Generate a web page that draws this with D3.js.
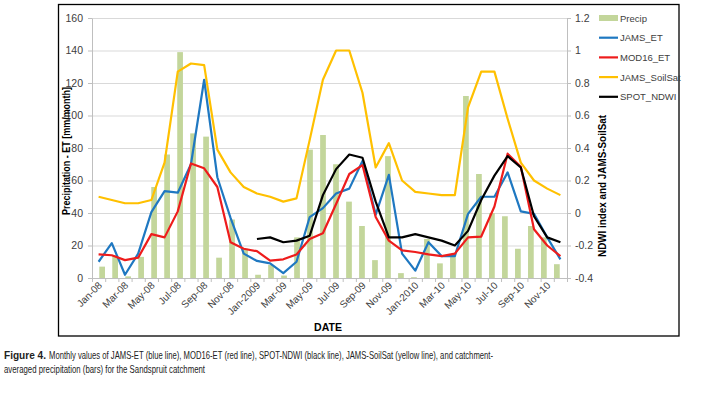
<!DOCTYPE html>
<html>
<head>
<meta charset="utf-8">
<script src="https://cdn.jsdelivr.net/npm/d3@7/dist/d3.min.js"></script>
<style>
  body { margin: 0; background: #fff; }
  svg text { font-family: "Liberation Sans", Arial, sans-serif; }
</style>
</head>
<body>
<svg id="chart" width="710" height="394"></svg>
<script>
const months = ['Jan-08','Feb-08','Mar-08','Apr-08','May-08','Jun-08','Jul-08','Aug-08','Sep-08','Oct-08','Nov-08','Dec-08',
  'Jan-2009','Feb-09','Mar-09','Apr-09','May-09','Jun-09','Jul-09','Aug-09','Sep-09','Oct-09','Nov-09','Dec-09',
  'Jan-2010','Feb-10','Mar-10','Apr-10','May-10','Jun-10','Jul-10','Aug-10','Sep-10','Oct-10','Nov-10','Dec-10']

const precip = [7, 14, 1, 13, 56, 76, 139, 89, 87, 12.5, 36, 18,
  2, 8, 1.5, 25, 79, 88, 70, 47, 32, 11, 75, 3,
  0.5, 24, 9, 14, 112, 64, 40, 38, 18, 32, 25, 8.5]
const jamsET = [10, 21.5, 2, 15, 40.5, 53.5, 52.5, 70, 122, 62, 37, 15,
  10.5, 9, 3, 10, 37.5, 43, 52, 55, 72, 39, 63.5, 15,
  4.5, 22, 13.5, 13.5, 39.5, 50, 50, 65, 41, 39.5, 25, 11.5]
const mod16ET = [14.5, 14, 11, 12.5, 27, 25, 41, 70.5, 67.5, 56, 22, 18,
  16.5, 10.7, 11.5, 14.5, 24, 27.5, 45.5, 64, 69.5, 37.5, 23, 17,
  16, 14.5, 13.5, 15, 25, 25.5, 44, 76.5, 68.5, 30, 20, 13.5]
const soilSat = [0.10, 0.08, 0.06, 0.06, 0.08, 0.31, 0.87, 0.92, 0.91, 0.39, 0.25, 0.16,
  0.12, 0.10, 0.07, 0.09, 0.45, 0.82, 1.00, 1.00, 0.74, 0.28, 0.43, 0.20,
  0.13, 0.12, 0.11, 0.11, 0.65, 0.87, 0.87, 0.58, 0.31, 0.20, 0.15, 0.11]
const ndwi = [null, null, null, null, null, null, null, null, null, null, null, null,
  -0.16, -0.15, -0.18, -0.17, -0.14, 0.11, 0.27, 0.36, 0.34, 0.07, -0.15, -0.15,
  -0.13, -0.15, -0.17, -0.20, -0.11, 0.08, 0.23, 0.35, 0.28, -0.02, -0.15, -0.18]

const leftTicks = [0, 20, 40, 60, 80, 100, 120, 140, 160]
const rightTicks = [-0.4, -0.2, 0, 0.2, 0.4, 0.6, 0.8, 1, 1.2]
const legendItems = ['Precip', 'JAMS_ET', 'MOD16_ET', 'JAMS_SoilSat', 'SPOT_NDWI']
const colors = { Precip: '#c3d69b', JAMS_ET: '#1f78c1', MOD16_ET: '#ee1c1c', JAMS_SoilSat: '#ffc000', SPOT_NDWI: '#000000' }

const svg = d3.select('#chart')
const plot = { left: 92, right: 567, top: 18, bottom: 278 }

// frame
svg.append('rect')
  .attr('x', 58.5).attr('y', 4.5).attr('width', 620.5).attr('height', 331.5)
  .attr('fill', 'none').attr('stroke', '#000').attr('stroke-width', 1.3)

const x = d3.scaleBand().domain(months).range([plot.left, plot.right])
const xBar = d3.scaleBand().domain(months).range([plot.left, plot.right]).padding(0.56)
const xIdx = d3.scaleLinear().domain([0, months.length]).range([plot.left, plot.right])
const yL = d3.scaleLinear().domain([0, 160]).range([plot.bottom, plot.top])
const yR = d3.scaleLinear().domain([-0.4, 1.2]).range([plot.bottom, plot.top])
const cx = m => x(m) + x.bandwidth() / 2

// gridlines
svg.append('g').selectAll('line').data(leftTicks.slice(1)).join('line')
  .attr('x1', plot.left).attr('x2', plot.right)
  .attr('y1', d => yL(d) + 0.5).attr('y2', d => yL(d) + 0.5)
  .attr('stroke', '#d9d9d9').attr('stroke-width', 1)

// bars
svg.append('g').selectAll('rect').data(precip).join('rect')
  .attr('x', (d, i) => xBar(months[i]))
  .attr('width', xBar.bandwidth())
  .attr('y', d => yL(d))
  .attr('height', d => yL(0) - yL(d))
  .attr('fill', colors.Precip)

// axes
const leftAxis = svg.append('g').attr('transform', `translate(${plot.left},0)`)
  .call(d3.axisLeft(yL).tickValues(leftTicks).tickSize(4).tickSizeOuter(0).tickPadding(5))
const rightAxis = svg.append('g').attr('transform', `translate(${plot.right},0)`)
  .call(d3.axisRight(yR).tickValues(rightTicks).tickSize(4).tickSizeOuter(0).tickPadding(4)
    .tickFormat(d => d3.format('~g')(d).replace('−', '-')))
const bottomAxis = svg.append('g').attr('transform', `translate(0,${plot.bottom})`)
  .call(d3.axisBottom(xIdx).tickValues(d3.range(months.length + 1)).tickSize(4).tickSizeOuter(0).tickFormat(''))

for (const a of [leftAxis, rightAxis, bottomAxis]) {
  a.select('.domain').attr('stroke', '#bfbfbf')
  a.selectAll('.tick line').attr('stroke', '#bfbfbf')
  a.selectAll('text').attr('font-size', 10.5).attr('fill', '#404040')
    .attr('font-family', '"Liberation Sans", Arial, sans-serif')
}

// x labels every other month
svg.append('g').selectAll('text').data(months.filter((m, i) => i % 2 === 0)).join('text')
  .attr('transform', d => `translate(${cx(d) + 4},${plot.bottom + 8}) rotate(-45)`)
  .attr('text-anchor', 'end')
  .attr('font-size', 10)
  .attr('fill', '#404040')
  .text(d => d)

// lines
const drawLine = (vals, scale, color) => {
  const line = d3.line()
    .defined(d => d != null)
    .x((d, i) => cx(months[i]))
    .y(d => scale(d))
  svg.append('path').datum(vals)
    .attr('d', line)
    .attr('fill', 'none')
    .attr('stroke', color)
    .attr('stroke-width', 2.2)
    .attr('stroke-linejoin', 'round')
}
drawLine(soilSat, yR, colors.JAMS_SoilSat)
drawLine(jamsET, yL, colors.JAMS_ET)
drawLine(mod16ET, yL, colors.MOD16_ET)
drawLine(ndwi, yR, colors.SPOT_NDWI)

// axis titles
svg.append('text')
  .attr('transform', `translate(70,151) rotate(-90)`)
  .attr('text-anchor', 'middle')
  .attr('font-weight', 'bold').attr('font-size', 10.5)
  .attr('textLength', 128).attr('lengthAdjust', 'spacingAndGlyphs')
  .text('Precipitation - ET [mm/month]')

svg.append('text')
  .attr('transform', `translate(606,186) rotate(-90)`)
  .attr('text-anchor', 'middle')
  .attr('font-weight', 'bold').attr('font-size', 10.5)
  .attr('textLength', 142).attr('lengthAdjust', 'spacingAndGlyphs')
  .text('NDWI index and JAMS-SoilSat')

svg.append('text')
  .attr('x', 328).attr('y', 331)
  .attr('text-anchor', 'middle')
  .attr('font-weight', 'bold').attr('font-size', 10.5)
  .text('DATE')

// legend
const legend = svg.append('g').attr('transform', 'translate(599,18)')
legendItems.forEach((name, i) => {
  const yy = i * 19.7
  if (name === 'Precip') {
    legend.append('rect').attr('x', 0).attr('y', yy - 3).attr('width', 19).attr('height', 6)
      .attr('fill', colors[name])
  } else {
    legend.append('line').attr('x1', 0).attr('x2', 19).attr('y1', yy).attr('y2', yy)
      .attr('stroke', colors[name]).attr('stroke-width', 2.2)
  }
  legend.append('text').attr('x', 21).attr('y', yy + 3.5)
    .attr('font-size', 9.5).attr('fill', '#404040').text(name)
})

// caption
const cap = svg.append('g').attr('font-family', '"Liberation Sans Narrow", "Liberation Sans", Arial, sans-serif')
  .attr('font-size', 10.5).attr('fill', '#222')
cap.append('text').attr('x', 4).attr('y', 359).attr('font-weight', 'bold')
  .attr('textLength', 42).attr('lengthAdjust', 'spacingAndGlyphs')
  .text('Figure 4.')
cap.append('text').attr('x', 49).attr('y', 359)
  .attr('textLength', 444).attr('lengthAdjust', 'spacingAndGlyphs')
  .text('Monthly values of JAMS-ET (blue line), MOD16-ET (red line), SPOT-NDWI (black line), JAMS-SoilSat (yellow line), and catchment-')
cap.append('text').attr('x', 4).attr('y', 373)
  .attr('textLength', 201).attr('lengthAdjust', 'spacingAndGlyphs')
  .text('averaged precipitation (bars) for the Sandspruit catchment')
</script>
</body>
</html>
